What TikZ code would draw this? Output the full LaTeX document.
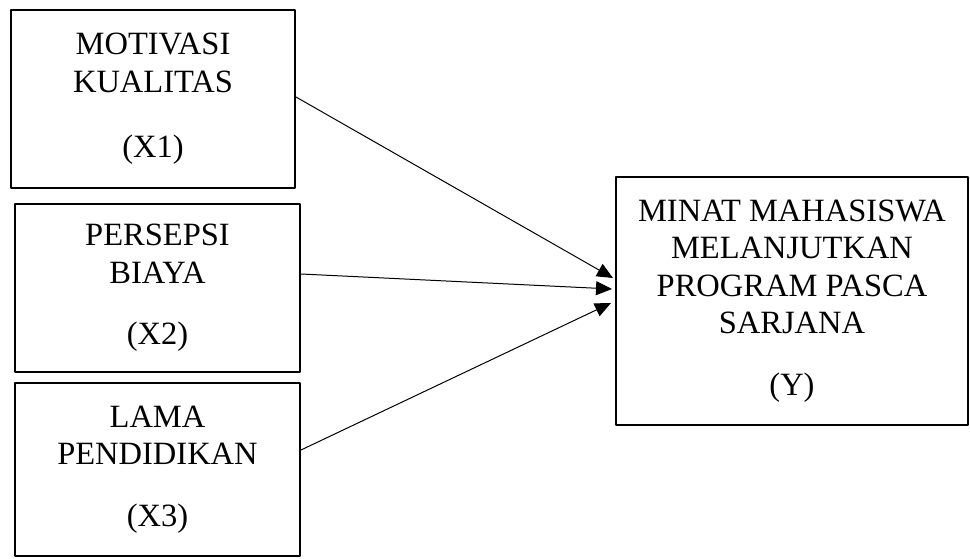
\documentclass[tikz,border=0pt]{standalone}
\usepackage{fontspec}
\setmainfont{Liberation Serif}
\usetikzlibrary{arrows.meta}

\tikzset{
    varbox/.style={draw, line width=2pt, inner sep=0pt, align=center,
        font=\fontsize{32.5}{37.5}\selectfont},
    arr/.style={line width=1pt, -{Triangle[length=16pt, width=14pt]}}
}

\begin{document}
\begin{tikzpicture}[x=1pt, y=1pt, line join=round]
    \useasboundingbox (0,0) rectangle (970,558);

    \node[varbox, minimum width=284, minimum height=178] (x1) at (153,459)
        {MOTIVASI\\KUALITAS\\[28pt](X1)};
    \node[varbox, minimum width=285, minimum height=168] (x2) at (157.5,270)
        {PERSEPSI\\BIAYA\\[24pt](X2)};
    \node[varbox, minimum width=285, minimum height=173] (x3) at (157.5,88.5)
        {LAMA\\PENDIDIKAN\\[24pt](X3)};
    \node[varbox, minimum width=352, minimum height=248] (y) at (792,257)
        {MINAT MAHASISWA\\MELANJUTKAN\\PROGRAM PASCA\\SARJANA\\[24pt](Y)};

    \draw[arr] ([yshift=2]x1.east) -- ([xshift=-2,yshift=23]y.west);
    \draw[arr] ([yshift=14]x2.east) -- ([xshift=-3,yshift=12]y.west);
    \draw[arr] ([yshift=19.5]x3.east) -- ([xshift=-4,yshift=-2]y.west);
\end{tikzpicture}
\end{document}
